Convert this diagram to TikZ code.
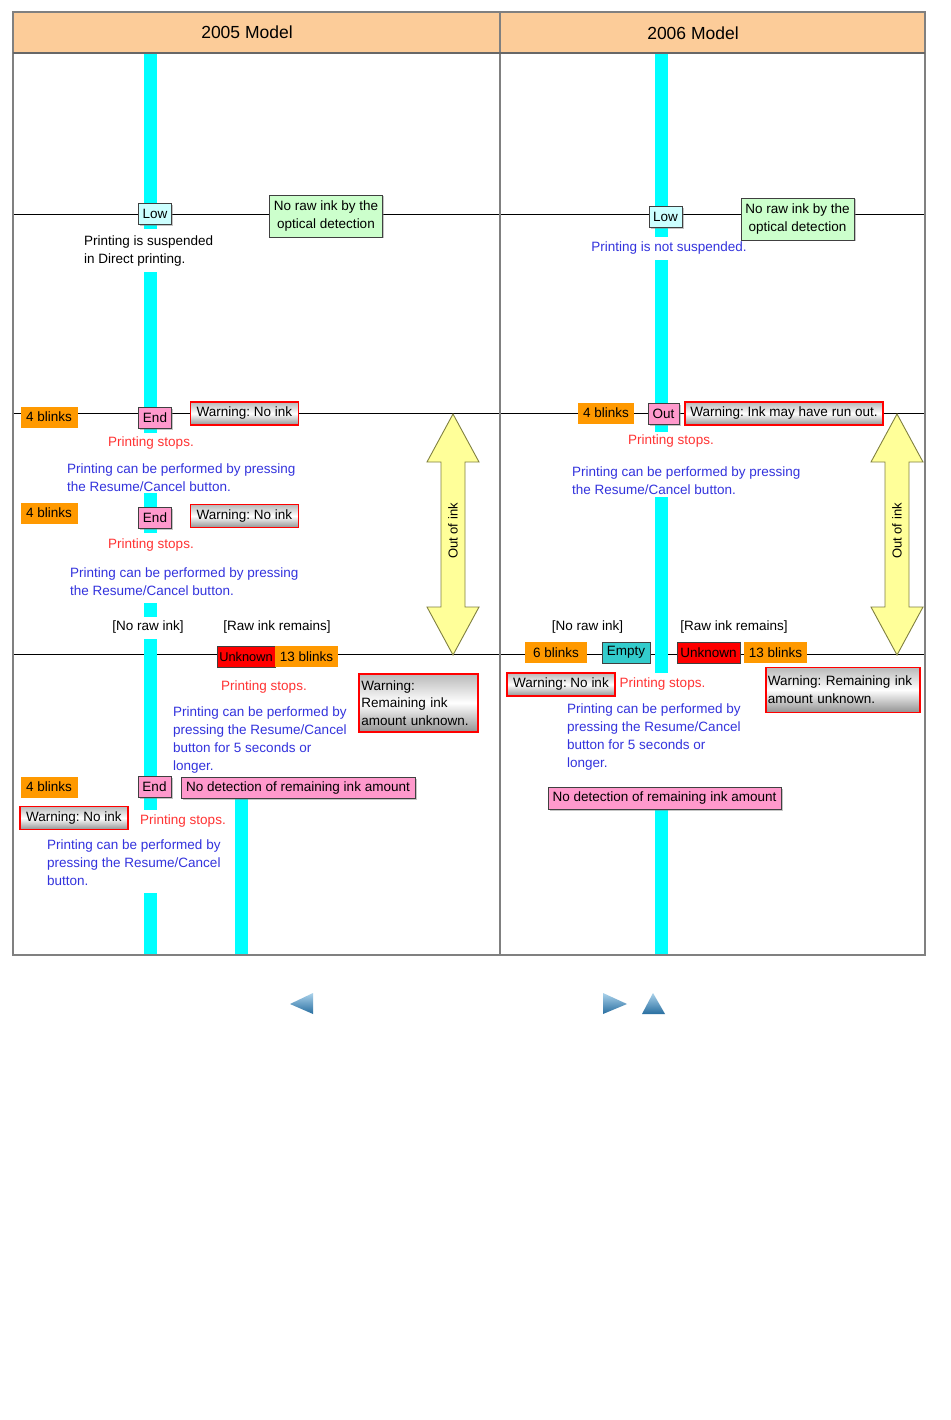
\documentclass[tikz,border=0pt]{standalone}
\usepackage{fontspec}
\setmainfont{Liberation Sans}
\usetikzlibrary{shadows}
\frenchspacing
\definecolor{hdr}{RGB}{252,204,153}
\definecolor{framec}{RGB}{128,128,128}
\definecolor{barc}{RGB}{0,255,255}
\definecolor{lcyan}{RGB}{204,255,255}
\definecolor{lgreen}{RGB}{204,255,204}
\definecolor{pinkc}{RGB}{255,153,204}
\definecolor{orangec}{RGB}{255,153,0}
\definecolor{redc}{RGB}{255,0,0}
\definecolor{tealc}{RGB}{51,204,204}
\definecolor{redt}{RGB}{255,51,51}
\definecolor{bluet}{RGB}{51,51,221}
\definecolor{boxedge}{RGB}{64,64,64}
\definecolor{arrowfill}{RGB}{255,255,153}
\definecolor{arrowedge}{RGB}{128,128,64}
\definecolor{navlight}{RGB}{170,210,235}
\definecolor{navdark}{RGB}{40,110,160}
\begin{document}
\begin{tikzpicture}[x=1pt,y=-1pt,
  every node/.style={font=\fontsize{13.5}{18}\selectfont},
  lbl/.style={inner sep=0pt},
  shd/.style={drop shadow={shadow xshift=1.5pt,shadow yshift=-1.5pt,opacity=0.45}},
  bx/.style={draw=boxedge,line width=0.9pt,inner sep=0pt,minimum height=21pt,text=black},
  lowbox/.style={bx,fill=lcyan,shd,minimum width=33pt},
  endbox/.style={bx,fill=pinkc,shd},
  optbox/.style={bx,fill=lgreen,shd,align=center,minimum width=113pt,minimum height=42pt},
  blink/.style={fill=orangec,inner sep=0pt,minimum height=21pt,minimum width=57pt},
  unk/.style={bx,fill=redc,minimum width=56pt},
  warn/.style={draw=redc,line width=1.6pt,top color=gray!55,bottom color=gray!85,middle color=white,inner sep=0pt,minimum height=23pt},
  redtxt/.style={text=redt,inner sep=0pt},
  bluetxt/.style={text=bluet,align=left,inner sep=0pt,anchor=base west},
  blacktxt/.style={text=black,align=left,inner sep=0pt,anchor=base west},
  timeline/.style={draw=black,line width=1pt},
  bigarrow/.style={fill=arrowfill,draw=arrowedge,line width=0.9pt,line join=miter}
]
\useasboundingbox (0,0) rectangle (950,1420);
\fill[white] (0,0) rectangle (950,1420);

% header band
\fill[hdr] (13,12) rectangle (925,53);
\node[lbl,font=\fontsize{17.5}{20}\selectfont] (h05) at (247,32) {2005 Model};
\node[lbl,font=\fontsize{17.5}{20}\selectfont] (h06) at (693,33) {2006 Model};

% timelines
\coordinate (a1) at (13,214.5);  \coordinate (a2) at (500,214.5);
\coordinate (a3) at (925,214.5);
\coordinate (b1) at (13,413.5);  \coordinate (b2) at (500,413.5);
\coordinate (b3) at (925,413.5);
\coordinate (c1) at (13,654.5);  \coordinate (c2) at (500,654.5);
\coordinate (c3) at (925,654.5);
\draw[timeline] (a1) -- (a2);
\draw[timeline] (a2) -- (a3);
\draw[timeline] (b1) -- (b2);
\draw[timeline] (b2) -- (b3);
\draw[timeline] (c1) -- (c2);
\draw[timeline] (c2) -- (c3);

% cyan bars, left panel
\fill[barc] (144,53) rectangle (157,229);
\fill[barc] (144,272) rectangle (157,433);
\fill[barc] (144,493) rectangle (157,533);
\fill[barc] (144,603) rectangle (157,617);
\fill[barc] (144,639) rectangle (157,810);
\fill[barc] (144,893) rectangle (157,955);
\fill[barc] (235,798) rectangle (248,955);
% cyan bars, right panel
\fill[barc] (655,53) rectangle (668,237);
\fill[barc] (655,260) rectangle (668,432);
\fill[barc] (655,497) rectangle (668,673);
\fill[barc] (655,808) rectangle (668,955);

% frame
\draw[framec,line width=2pt] (13,12) rectangle (925,955);
\draw[framec,line width=2pt] (500,12) -- (500,955);
\draw[framec!80!black,line width=2.5pt] (13,53) -- (925,53);

% ---------- 2005 model ----------
\node[lowbox] (lowL) at (155,214) {Low};
\node[optbox] (optL) at (326,216) {No raw ink by the\\optical detection};
\node[blacktxt] (suspL) at (84,263.5) {Printing is suspended\\in Direct printing.};

\node[blink] (bl1) at (49,417) {4 blinks};
\node[endbox,minimum width=33pt] (end1) at (155,418) {End};
\node[warn,minimum width=108pt] (w1) at (244.5,413.5) {Warning: No ink};
\node[redtxt] (ps1) at (151,443) {Printing stops.};
\node[bluetxt] (pc1) at (67,491.5) {Printing can be performed by pressing\\the Resume/Cancel button.};

\node[blink] (bl2) at (49,513) {4 blinks};
\node[endbox,minimum width=33pt] (end2) at (155,517.5) {End};
\node[warn,minimum width=108pt] (w2) at (244.5,516) {Warning: No ink};
\node[redtxt] (ps2) at (151,545) {Printing stops.};
\node[bluetxt] (pc2) at (70,595.5) {Printing can be performed by pressing\\the Resume/Cancel button.};

\node[lbl] (nrawL) at (148,627) {[No raw ink]};
\node[lbl] (rawL) at (277,627) {[Raw ink remains]};
\node[unk,minimum width=58pt,font=\fontsize{12.8}{18}\selectfont] (unkL) at (246,656.5) {Unknown};
\node[blink,minimum width=63pt] (bl13L) at (306.5,656.5) {13 blinks};
\node[warn,anchor=north west,text width=114pt,align=left,inner sep=2.5pt,minimum height=58pt] (wremL) at (358,673) {Warning:\\[-0.5pt]Remaining ink\\[-0.5pt]amount unknown.};
\node[redtxt] (ps3) at (264,687) {Printing stops.};
\node[bluetxt] (pc3) at (173,770.5) {Printing can be performed by\\pressing the Resume/Cancel\\button for 5 seconds or\\longer.};

\node[blink] (bl3) at (49,787) {4 blinks};
\node[endbox,minimum width=33pt] (end3) at (154.5,787) {End};
\node[endbox,minimum width=234pt] (nodetL) at (298,788) {No detection of remaining ink amount};
\node[warn,minimum width=108pt] (w3) at (74,818) {Warning: No ink};
\node[redtxt] (ps4) at (183,821) {Printing stops.};
\node[bluetxt] (pc4) at (47,885.5) {Printing can be performed by\\pressing the Resume/Cancel\\button.};

% out of ink arrow, left
\coordinate (arL1) at (453,414);
\coordinate (arL2) at (453,655);
\draw[bigarrow] (arL1) -- (479,462) -- (465,462) -- (465,607) -- (479,607) -- (arL2)
  -- (427,607) -- (441,607) -- (441,462) -- (427,462) -- cycle;
\node[lbl,rotate=90,font=\fontsize{13}{14}\selectfont] (ooiL) at (453,531) {Out of ink};

% ---------- 2006 model ----------
\node[lowbox] (lowR) at (665.5,217) {Low};
\node[optbox] (optR) at (797.5,219) {No raw ink by the\\optical detection};
\node[lbl,text=bluet] (suspR) at (669,248) {Printing is not suspended.};

\node[blink,minimum width=56pt] (bl4) at (606,413) {4 blinks};
\node[endbox,minimum width=31pt] (outR) at (663.5,413.5) {Out};
\node[warn,minimum width=198pt] (w4) at (784,413.5) {Warning: Ink may have run out.};
\node[redtxt] (ps5) at (671,441) {Printing stops.};
\node[bluetxt] (pc5) at (572,494.5) {Printing can be performed by pressing\\the Resume/Cancel button.};

\node[lbl] (nrawR) at (587.5,627) {[No raw ink]};
\node[lbl] (rawR) at (734,627) {[Raw ink remains]};
\node[blink,minimum width=62pt] (bl6R) at (556,652.5) {6 blinks};
\node[bx,fill=tealc,minimum width=48pt] (emptyR) at (626,652.5) {Empty};
\node[unk,minimum width=63pt] (unkR) at (708.5,652.5) {Unknown};
\node[blink,minimum width=63pt] (bl13R) at (775.5,652.5) {13 blinks};
\node[warn,minimum width=108pt] (w5) at (561,684.5) {Warning: No ink};
\node[redtxt] (ps6) at (662.5,684) {Printing stops.};
\node[warn,anchor=north west,text width=150pt,align=left,inner sep=2pt,minimum height=45pt] (wremR) at (765,666.5) {Warning: Remaining ink\\[-0.5pt]amount unknown.};
\node[bluetxt] (pc6) at (567,767.5) {Printing can be performed by\\pressing the Resume/Cancel\\button for 5 seconds or\\longer.};
\node[endbox,minimum width=233pt,minimum height=22pt] (nodetR) at (664.5,798) {No detection of remaining ink amount};

% out of ink arrow, right
\coordinate (arR1) at (897,414);
\coordinate (arR2) at (897,655);
\draw[bigarrow] (arR1) -- (923,462) -- (909,462) -- (909,607) -- (923,607) -- (arR2)
  -- (871,607) -- (885,607) -- (885,462) -- (871,462) -- cycle;
\node[lbl,rotate=90,font=\fontsize{13}{14}\selectfont] (ooiR) at (897,531) {Out of ink};

% navigation triangles
\shade[top color=navlight,bottom color=navdark] (313,993) -- (313,1014) -- (290,1004) -- cycle;
\shade[top color=navlight,bottom color=navdark] (603,993) -- (603,1014) -- (627,1004) -- cycle;
\shade[top color=navlight,bottom color=navdark] (653,993) -- (665,1014) -- (642,1014) -- cycle;
\end{tikzpicture}
\end{document}
